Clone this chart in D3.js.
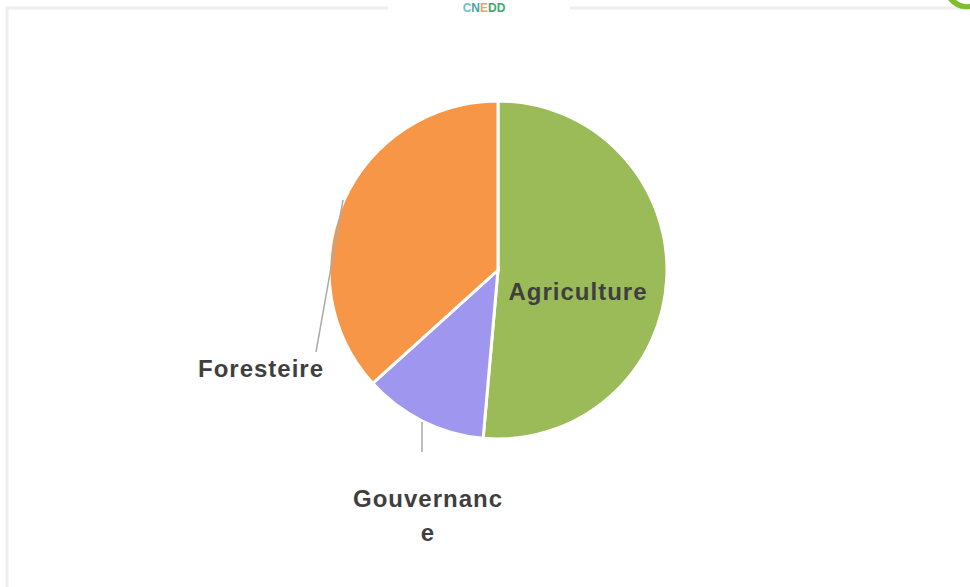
<!DOCTYPE html>
<html><head><meta charset="utf-8">
<script src="https://cdn.jsdelivr.net/npm/d3@7/dist/d3.min.js"></script>
<style>html,body{margin:0;padding:0;background:#fff;}svg{display:block;}</style>
</head><body>
<svg id="c" width="970" height="587"></svg>
<script>
const categories = ["Agriculture", "Gouvernance", "Foresteire"];
const values = [51.4, 11.9, 36.7];
const colors = ["#9BBB59", "#9F97EF", "#F79646"];
const logoLetters = ["C", "N", "E", "D", "D"];
const logoColors = ["#6DBCD0", "#3FA7A8", "#F0A060", "#3DAA6E", "#3DAA6E"];

const svg = d3.select("#c");
// frame
svg.append("rect").attr("x",7).attr("y",8).attr("width",975).attr("height",600)
  .attr("fill","none").attr("stroke","#eeeeee").attr("stroke-width",3);
svg.append("rect").attr("x",388).attr("y",0).attr("width",182).attr("height",20).attr("fill","#fff");
// CNEDD header
const hdr = svg.append("text").attr("x",484).attr("y",12).attr("text-anchor","middle")
  .attr("font-family","Liberation Sans, Arial, sans-serif").attr("font-weight","bold").attr("font-size",12);
logoLetters.forEach((l,i)=>hdr.append("tspan").attr("fill",logoColors[i]).text(l));
// top-right logo fragment
svg.append("path").attr("d","M948,0 L956,0 Q962,5 970,4 L970,9 Q957,11 948,0 Z").attr("fill","#7DBE2E");

const cx = 498, cy = 270, r = 169;
const g = svg.append("g").attr("transform",`translate(${cx},${cy})`);
const pie = d3.pie().sort(null).value(d=>d)(values);
const arc = d3.arc().innerRadius(0).outerRadius(r);
g.selectAll("path.s").data(pie).enter().append("path")
  .attr("d",arc).attr("fill",(d,i)=>colors[i]).attr("stroke","#fff").attr("stroke-width",3);

const font = "Liberation Sans, Arial, sans-serif";
function label(x,y,lines,anchor){
  const t = svg.append("text").attr("x",x).attr("y",y).attr("text-anchor",anchor||"middle")
    .attr("font-family",font).attr("font-weight","bold").attr("font-size",24)
    .attr("letter-spacing",1).attr("fill","#3f3f3f");
  lines.forEach((s,i)=>t.append("tspan").attr("x",x).attr("dy",i?34:0).text(s));
}
label(cx+80, 300, ["Agriculture"]);
// leader lines
const leaders = [
  [[343,200],[316,352]],
  [[422,422],[422,452]]
];
leaders.forEach(p=>svg.append("path").attr("d",d3.line()(p)).attr("stroke","#aaa").attr("stroke-width",1.5).attr("fill","none"));
label(261, 377, ["Foresteire"]);
label(428, 507, ["Gouvernanc","e"]);
</script>
</body></html>
